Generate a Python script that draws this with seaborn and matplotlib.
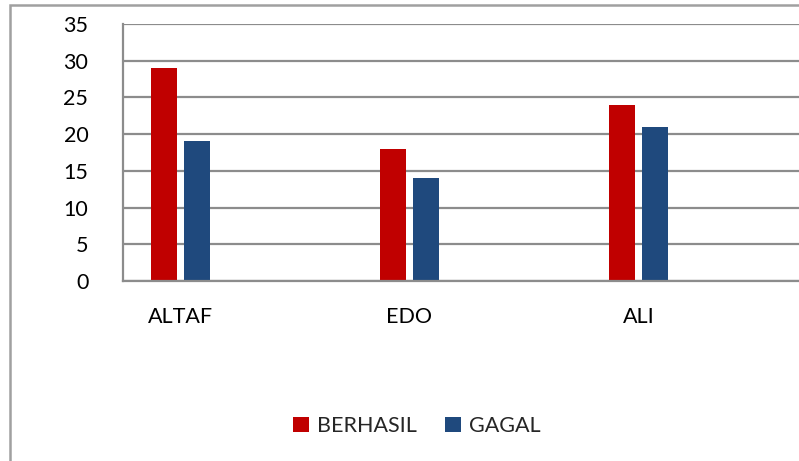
import matplotlib
matplotlib.use("Agg")
import matplotlib.pyplot as plt
import seaborn as sns
import pandas as pd
from matplotlib.patches import Rectangle, Patch

names = ["ALTAF", "EDO", "ALI"]
berhasil = [29, 18, 24]
gagal = [19, 14, 21]
series = ["BERHASIL", "GAGAL"]
colors = ["#C00000", "#1F497D"]
yticks = [0, 5, 10, 15, 20, 25, 30, 35]

df = pd.DataFrame({
    "name": names * 2,
    "value": berhasil + gagal,
    "series": [series[0]] * 3 + [series[1]] * 3,
})

sns.set_theme(style="white")
plt.rcParams["font.family"] = ["Lato", "DejaVu Sans"]

W, H = 799, 461
fig = plt.figure(figsize=(W / 100, H / 100), dpi=100)
left, right, bottom, top = 123, 799, 281, 24
ax = fig.add_axes([left / W, 1 - bottom / H, (right - left) / W, (bottom - top) / H])

sns.barplot(data=df, x="name", y="value", hue="series", palette=colors,
            width=0.2856, gap=0.214, ax=ax, legend=False, saturation=1,
            edgecolor="none", linewidth=0)

ax.set_ylim(0, 35)
ax.set_yticks(yticks)
ax.set_yticklabels([str(t) for t in yticks])
ax.set_xlim(-57.5 / 229, (799 - 180.5) / 229)
ax.set_xlabel("")
ax.set_ylabel("")
ax.yaxis.grid(True, color="#8c8c8c", linewidth=1.6)
ax.set_axisbelow(True)
for s in ["top", "right"]:
    ax.spines[s].set_visible(False)
for s in ["left", "bottom"]:
    ax.spines[s].set_color("#8c8c8c")
    ax.spines[s].set_linewidth(1.6)
ax.tick_params(axis="y", length=0, pad=25, labelsize=15.5, labelcolor="black")
ax.tick_params(axis="x", length=0, pad=19, labelsize=15.5, labelcolor="black")

handles = [Patch(facecolor=c, edgecolor="none", label=l) for c, l in zip(colors, series)]
fig.legend(handles=handles, loc="center", bbox_to_anchor=(417 / W, 1 - 426 / H),
           ncol=2, frameon=False, fontsize=15.5, handlelength=0.72, handleheight=0.72,
           handletextpad=0.4, columnspacing=1.3)

fig.patches.append(Rectangle((10 / W, -0.1), 1.2, 1 - 5 / H + 0.1, transform=fig.transFigure,
                             fill=False, edgecolor="#a0a0a0", linewidth=1.8))

fig.savefig("out.png", dpi=100)
